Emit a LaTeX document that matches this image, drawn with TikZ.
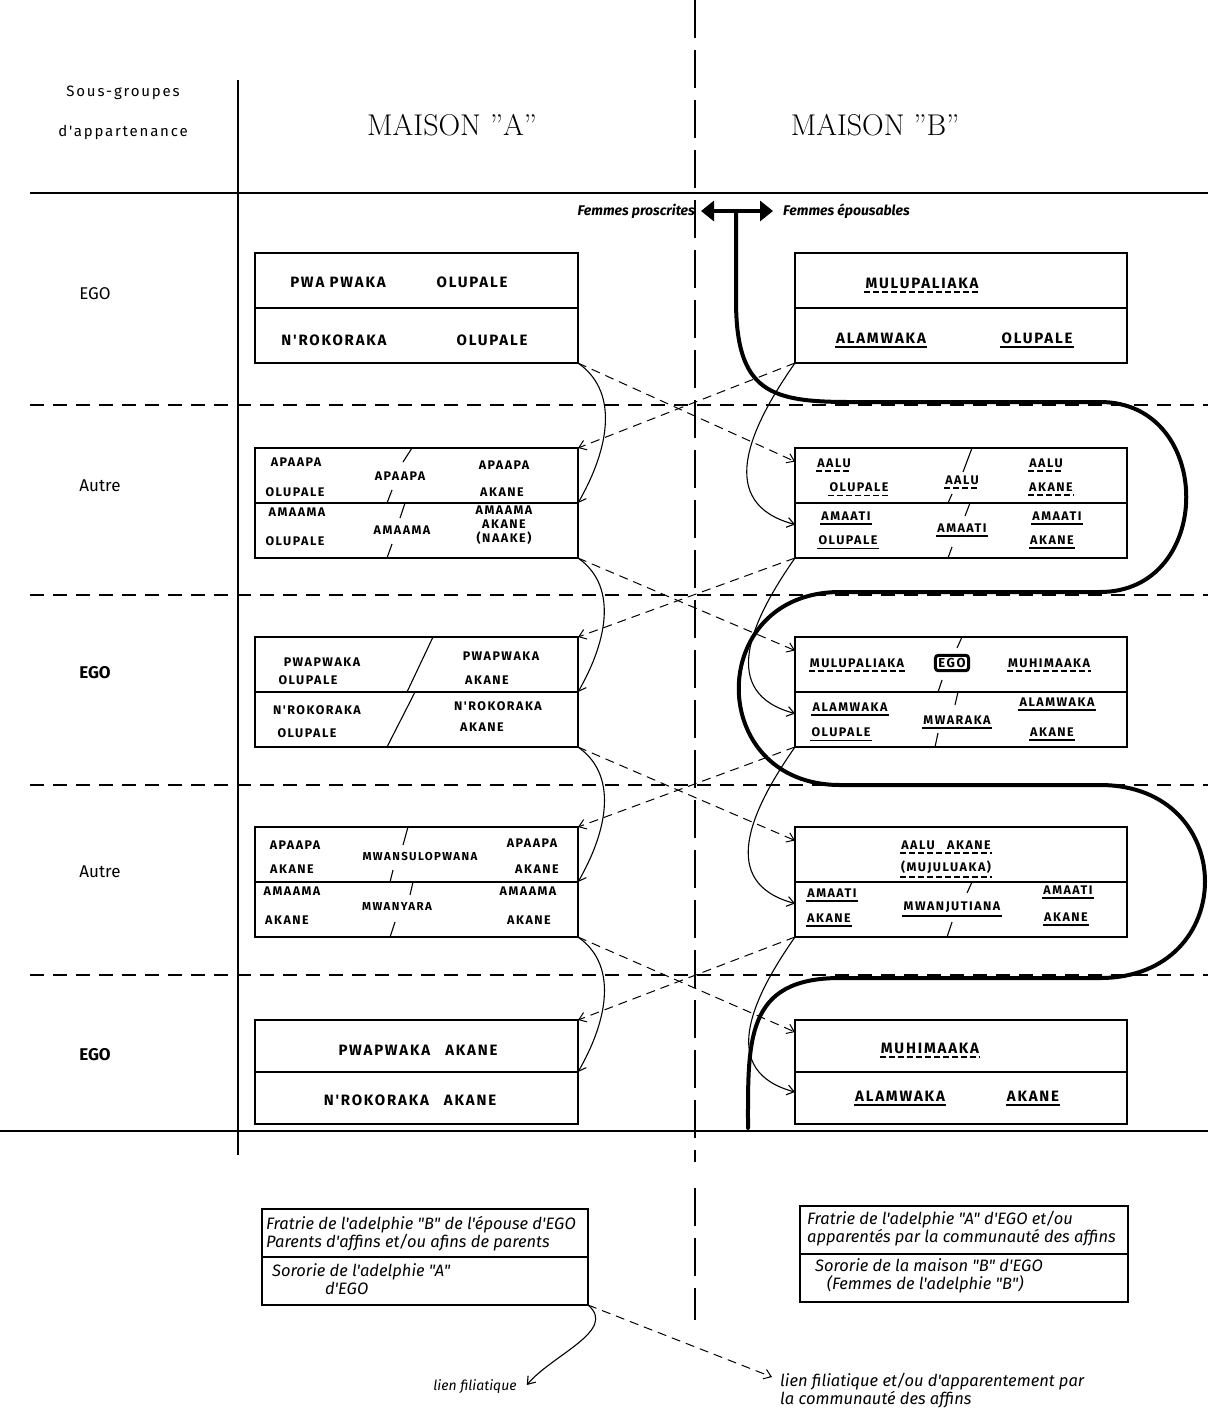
\documentclass[tikz,border=0pt]{standalone}
\usepackage{fontspec}
\usepackage{tikz}
\usetikzlibrary{arrows.meta,positioning}
\newfontfamily\hand[LetterSpace=12]{Fira Sans}
\newfontfamily\plume{Fira Sans}
\tikzset{
  >={Straight Barb[length=7pt,width=10pt]},
  demi/.style={draw, line width=1.4pt, minimum width=323pt, minimum height=55pt,
               inner sep=0pt, outer sep=0pt},
  demib/.style={demi, minimum width=332pt},
  demic/.style={demi, minimum width=326pt, minimum height=48pt},
  nom/.style={font=\fontsize{15}{17}\selectfont\hand\bfseries, inner sep=1pt, align=center},
  nomp/.style={font=\fontsize{12.5}{14}\selectfont\hand\bfseries, inner sep=1pt, align=center},
  nommini/.style={font=\fontsize{11.5}{13}\selectfont\hand\bfseries, inner sep=1pt},
  sul/.style={append after command={([yshift=-2.5pt]\tikzlastnode.south west)
              edge[line width=1.4pt] ([yshift=-2.5pt]\tikzlastnode.south east)}},
  dul/.style={append after command={([yshift=-2.5pt]\tikzlastnode.south west)
              edge[line width=1.4pt, dash pattern=on 6pt off 3pt]
              ([yshift=-2.5pt]\tikzlastnode.south east)}},
  barre/.style={line width=1.1pt},
  rang/.style={font=\fontsize{17}{19}\selectfont\plume},
  rangb/.style={font=\fontsize{17}{19}\selectfont\plume\bfseries},
  sgrp/.style={font=\fontsize{15}{17}\selectfont\hand},
  titre/.style={font=\fontsize{30}{36}\selectfont\addfontfeature{LetterSpace=20}},
  legende/.style={font=\fontsize{16.5}{18}\selectfont\plume\itshape, align=left,
                  inner sep=0pt, anchor=west},
  femmes/.style={font=\fontsize{14}{16}\selectfont\plume\itshape\bfseries, inner sep=0pt},
  filia/.style={->, line width=1.1pt},
  allia/.style={->, line width=1pt, dash pattern=on 9pt off 6pt},
  generation/.style={line width=1.4pt, dash pattern=on 14pt off 9pt},
  serpent/.style={line width=4pt, line cap=round, line join=round},
  fleche/.style={arrows={Triangle[length=13pt,width=20pt]-Triangle[length=13pt,width=20pt]},
                 line width=4.5pt},
  egob/.style={draw, line width=3pt, rounded corners=3pt, inner sep=3pt,
               font=\fontsize{13}{15}\selectfont\hand\bfseries},
}

\begin{document}
\begin{tikzpicture}[x=1pt,y=-1pt]
\useasboundingbox (0,0) rectangle (1208,1425);

  % cadre du tableau
  \draw[line width=1.5pt] (238,80) -- (238,1155);
  \draw[line width=1.3pt, dash pattern=on 38pt off 12pt] (695,0) -- (695,1162);
  \draw[line width=1.3pt, dash pattern=on 38pt off 12pt] (695,1188) -- (695,1320);
  \draw[line width=2pt] (30,193) -- (1208,193);
  \draw[generation] (30,405) -- (1208,405);
  \draw[generation] (30,595) -- (1208,595);
  \draw[generation] (30,785) -- (1208,785);
  \draw[generation] (30,975) -- (1208,975);
  \draw[line width=2.5pt] (0,1131) -- (1208,1131);

  % en-tetes
  \node[sgrp] (sg1) at (123,93) {Sous-groupes};
  \node[sgrp] (sg2) at (123,132) {d'appartenance};
  \node[titre] (maisA) at (452,125) {MAISON "A"};
  \node[titre] (maisB) at (875,125) {MAISON "B"};

  % sous-groupes
  \node[rang] (r1) at (95,294) {EGO};
  \node[rang] (r2) at (100,486) {Autre};
  \node[rangb] (r3) at (95,673) {EGO};
  \node[rang] (r4) at (100,872) {Autre};
  \node[rangb] (r5) at (95,1055) {EGO};

  % femmes proscrites / epousables
  \node[femmes, anchor=east] (proscr) at (695,211) {Femmes proscrites};
  \node[femmes, anchor=west] (epous) at (783,211) {Femmes épousables};
  \draw[fleche] ([xshift=6pt]proscr.east) -- ([xshift=-10pt]epous.west);
  \coordinate (tige) at (736,212);
  \draw[serpent] (tige) -- (736,300)
    .. controls (736,392) and (770,402) .. (850,402) -- (1100,402)
    .. controls (1215,402) and (1215,592) .. (1100,592) -- (840,592)
    .. controls (705,592) and (705,785) .. (840,785) -- (1100,785)
    .. controls (1240,785) and (1240,978) .. (1100,978) -- (840,978)
    .. controls (745,978) and (748,1040) .. (748,1128);

  % EGO (haut)
  \node[demi] (a1u) at (416.5,280.5) {};
  \node[demi, below=0pt of a1u] (a1l) {};
  \node[nom] (a1n1) at (338,282) {PWA PWAKA};
  \node[nom] (a1n2) at (472,282) {OLUPALE};
  \node[nom] (a1n3) at (334,340) {N'ROKORAKA};
  \node[nom] (a1n4) at (492,340) {OLUPALE};
  \node[demib] (b1u) at (961,280.5) {};
  \node[demib, below=0pt of b1u] (b1l) {};
  \node[nom, dul] (b1n1) at (922,283) {MULUPALIAKA};
  \node[nom, sul] (b1n2) at (881,338) {ALAMWAKA};
  \node[nom, sul] (b1n3) at (1037,338) {OLUPALE};

  % Autre
  \node[demi] (a2u) at (416.5,475.5) {};
  \node[demi, below=0pt of a2u] (a2l) {};
  \node[nomp] (a2n1) at (296,462) {APAAPA};
  \node[nomp] (a2n2) at (295,492) {OLUPALE};
  \node[nomp] (a2n3) at (400,476) {APAAPA};
  \node[nomp] (a2n4) at (504,465) {APAAPA};
  \node[nomp] (a2n5) at (502,492) {AKANE};
  \node[nomp] (a2n6) at (297,512) {AMAAMA};
  \node[nomp] (a2n7) at (295,541) {OLUPALE};
  \node[nomp] (a2n8) at (402,530) {AMAAMA};
  \node[nomp] (a2n9) at (504,525) {AMAAMA\\AKANE\\(NAAKE)};
  \draw[barre] (403,462) -- (412,448);
  \draw[barre] (387,503) -- (392,490);
  \draw[barre] (400,518) -- (405,503);
  \draw[barre] (387,558) -- (392,544);
  \node[demib] (b2u) at (961,475.5) {};
  \node[demib, below=0pt of b2u] (b2l) {};
  \node[nomp, dul] (b2n1) at (834,463) {AALU};
  \node[nomp, dul] (b2n2) at (859,487) {OLUPALE};
  \node[nomp, dul] (b2n3) at (962,480) {AALU};
  \node[nomp, dul] (b2n4) at (1046,463) {AALU};
  \node[nomp, dul] (b2n5) at (1051,487) {AKANE};
  \node[nomp, sul] (b2n6) at (846,516) {AMAATI};
  \node[nomp, sul] (b2n7) at (848,540) {OLUPALE};
  \node[nomp, sul] (b2n8) at (962,528) {AMAATI};
  \node[nomp, sul] (b2n9) at (1057,516) {AMAATI};
  \node[nomp, sul] (b2n10) at (1052,540) {AKANE};
  \draw[barre] (963,472) -- (972,448);
  \draw[barre] (948,503) -- (952,494);
  \draw[barre] (965,516) -- (970,503);
  \draw[barre] (948,558) -- (952,547);

  % EGO (milieu)
  \node[demi] (a3u) at (416.5,664.5) {};
  \node[demi, below=0pt of a3u] (a3l) {};
  \node[nomp] (a3n1) at (322,662) {PWAPWAKA};
  \node[nomp] (a3n2) at (308,680) {OLUPALE};
  \node[nomp] (a3n3) at (501,656) {PWAPWAKA};
  \node[nomp] (a3n4) at (487,680) {AKANE};
  \node[nomp] (a3n5) at (317,710) {N'ROKORAKA};
  \node[nomp] (a3n6) at (307,733) {OLUPALE};
  \node[nomp] (a3n7) at (498,706) {N'ROKORAKA};
  \node[nomp] (a3n8) at (482,727) {AKANE};
  \draw[barre] (407,692) -- (433,637);
  \draw[barre] (387,747) -- (415,692);
  \node[demib] (b3u) at (961,664.5) {};
  \node[demib, below=0pt of b3u] (b3l) {};
  \node[nomp, dul] (b3n1) at (857,663) {MULUPALIAKA};
  \node[egob] (ego) at (952,663) {EGO};
  \node[nomp, dul] (b3n2) at (1049,663) {MUHIMAAKA};
  \node[nomp, sul] (b3n3) at (850,707) {ALAMWAKA};
  \node[nomp, sul] (b3n4) at (841,732) {OLUPALE};
  \node[nomp, sul] (b3n5) at (957,720) {MWARAKA};
  \node[nomp, sul] (b3n6) at (1057,702) {ALAMWAKA};
  \node[nomp, sul] (b3n7) at (1052,732) {AKANE};
  \draw[barre] (957,648) -- (962,637);
  \draw[barre] (938,692) -- (942,680);
  \draw[barre] (955,705) -- (958,692);
  \draw[barre] (935,747) -- (938,733);

  % Autre
  \node[demi] (a4u) at (416.5,854.5) {};
  \node[demi, below=0pt of a4u] (a4l) {};
  \node[nomp] (a4n1) at (295,845) {APAAPA};
  \node[nomp] (a4n2) at (292,869) {AKANE};
  \node[nommini] (a4n3) at (420,857) {MWANSULOPWANA};
  \node[nomp] (a4n4) at (532,843) {APAAPA};
  \node[nomp] (a4n5) at (537,869) {AKANE};
  \node[nomp] (a4n6) at (292,891) {AMAAMA};
  \node[nomp] (a4n7) at (287,920) {AKANE};
  \node[nommini] (a4n8) at (397,907) {MWANYARA};
  \node[nomp] (a4n9) at (528,891) {AMAAMA};
  \node[nomp] (a4n10) at (529,920) {AKANE};
  \draw[barre] (403,845) -- (408,827);
  \draw[barre] (390,882) -- (393,870);
  \draw[barre] (410,895) -- (413,882);
  \draw[barre] (390,937) -- (395,922);
  \node[demib] (b4u) at (961,854.5) {};
  \node[demib, below=0pt of b4u] (b4l) {};
  \node[nomp, dul] (b4n1) at (946,845) {AALU\quad AKANE};
  \node[nomp, dul] (b4n2) at (946,867) {(MUJULUAKA)};
  \node[nomp, sul] (b4n3) at (832,893) {AMAATI};
  \node[nomp, sul] (b4n4) at (829,918) {AKANE};
  \node[nomp, sul] (b4n5) at (952,907) {MWANJUTIANA};
  \node[nomp, sul] (b4n6) at (1068,890) {AMAATI};
  \node[nomp, sul] (b4n7) at (1066,917) {AKANE};
  \draw[barre] (967,893) -- (972,882);
  \draw[barre] (947,937) -- (952,922);

  % EGO (bas)
  \node[demi, minimum height=52pt] (a5u) at (416.5,1046) {};
  \node[demi, minimum height=52pt, below=0pt of a5u] (a5l) {};
  \node[nom] (a5n1) at (418,1050) {PWAPWAKA\quad AKANE};
  \node[nom] (a5n2) at (410,1100) {N'ROKORAKA\quad AKANE};
  \node[demib, minimum height=52pt] (b5u) at (961,1046) {};
  \node[demib, minimum height=52pt, below=0pt of b5u] (b5l) {};
  \node[nom, dul] (b5n1) at (930,1048) {MUHIMAAKA};
  \node[nom, sul] (b5n2) at (900,1096) {ALAMWAKA};
  \node[nom, sul] (b5n3) at (1033,1096) {AKANE};

  % filiation et alliance
  \draw[filia] (a1l.south east) to[out=-35,in=60] (a2u.south east);
  \draw[filia] (b1l.south west) to[out=-125,in=165,looseness=1.3] ([yshift=6pt]b2l.west);
  \draw[allia] (a1l.south east) -- ([yshift=14pt]b2u.west);
  \draw[allia] (b1l.south west) -- (a2u.north east);
  \draw[filia] (a2l.south east) to[out=-35,in=60] (a3u.south east);
  \draw[filia] (b2l.south west) to[out=-125,in=165,looseness=1.3] ([yshift=6pt]b3l.west);
  \draw[allia] (a2l.south east) -- ([yshift=14pt]b3u.west);
  \draw[allia] (b2l.south west) -- (a3u.north east);
  \draw[filia] (a3l.south east) to[out=-35,in=60] (a4u.south east);
  \draw[filia] (b3l.south west) to[out=-125,in=165,looseness=1.3] ([yshift=6pt]b4l.west);
  \draw[allia] (a3l.south east) -- ([yshift=14pt]b4u.west);
  \draw[allia] (b3l.south west) -- (a4u.north east);
  \draw[filia] (a4l.south east) to[out=-35,in=60] (a5u.south east);
  \draw[filia] (b4l.south west) to[out=-125,in=165,looseness=1.3] ([yshift=6pt]b5l.west);
  \draw[allia] (a4l.south east) -- ([yshift=14pt]b5u.west);
  \draw[allia] (b4l.south west) -- (a5u.north east);

  % legende
  \node[demic] (lga) at (425,1233) {};
  \node[demic, below=0pt of lga] (lgb) {};
  \node[demic, minimum width=328pt] (lgc) at (964,1230) {};
  \node[demic, minimum width=328pt, below=0pt of lgc] (lgd) {};
  \node[legende] (lgt1) at (266,1234)
    {Fratrie de l'adelphie "B" de l'épouse d'EGO\\Parents d'affins et/ou afins de parents};
  \node[legende] (lgt2) at (272,1279) {Sororie de l'adelphie "A"\\\hspace*{3.2em}d'EGO};
  \node[legende] (lgt3) at (807,1229)
    {Fratrie de l'adelphie "A" d'EGO et/ou\\apparentés par la communauté des affins};
  \node[legende] (lgt4) at (815,1276)
    {Sororie de la maison "B" d'EGO\\\hspace*{0.7em}(Femmes de l'adelphie "B")};

  \node[legende, font=\fontsize{14}{16}\selectfont\plume\itshape, anchor=center] (lf)
    at (475,1387) {lien filiatique};
  \node[legende, anchor=north west] (lfa) at (780,1373)
    {lien filiatique et/ou d'apparentement par\\la communauté des affins};
  \draw[filia] (lgb.south east) to[out=-40,in=50] ([xshift=10pt,yshift=2pt]lf.east);
  \draw[allia] (lgb.south east) -- ([xshift=-8pt,yshift=-4pt]lfa.north west);

\end{tikzpicture}
\end{document}
